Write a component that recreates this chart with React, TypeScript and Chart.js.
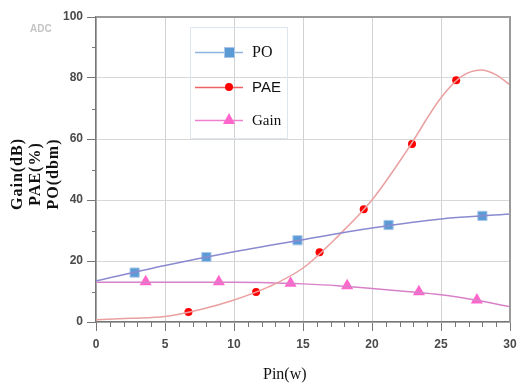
import React, { useEffect, useRef } from 'react';
import { Chart, registerables } from 'chart.js';
Chart.register(...registerables);

// Smooth curves
const poCurveX = [0, 5, 10, 15, 20, 25, 30];
const poCurveY = [13.5, 18.5, 23, 27, 30.8, 33.8, 35.4];
const paeCurveX = [0, 2.5, 5, 7.5, 10, 12.5, 15, 17.5, 20, 22.5, 25, 26.5, 27.9, 29, 30];
const paeCurveY = [0.7, 1.2, 1.8, 4, 7.2, 11.5, 17.7, 28, 40, 56, 73.5, 80.5, 82.6, 81, 77.7];
const gainCurveX = [0, 5, 10, 12.5, 15, 17.5, 20, 22.5, 25, 27.5, 30];
const gainCurveY = [13, 13, 13, 12.9, 12.5, 11.9, 11, 10, 8.9, 7.2, 5];

// Markers
const poMarkX = [2.8, 8, 14.6, 21.2, 28];
const poMarkY = [16.2, 21.3, 26.8, 31.8, 34.8];
const paeMarkX = [6.7, 11.6, 16.2, 19.4, 22.9, 26.1];
const paeMarkY = [3.3, 9.8, 22.9, 37, 58.4, 79.3];
const gainMarkX = [3.6, 8.9, 14.1, 18.2, 23.4, 27.6];
const gainMarkY = [13.2, 13.2, 12.7, 11.9, 9.9, 7.2];

const xTickLabels = [0, 5, 10, 15, 20, 25, 30];
const yTickLabels = [0, 20, 40, 60, 80, 100];
const seriesNames = ['PO', 'PAE', 'Gain'];
const yTitleLines = ['Gain(dB)', 'PAE(%)', 'PO(dbm)'];
const xTitle = 'Pin(w)';

const pts = (xs: number[], ys: number[]) => xs.map((x, i) => ({ x, y: ys[i] }));

const decorPlugin = {
  id: 'decor',
  afterDraw(chart: any) {
    const { ctx, chartArea: a, scales } = chart;
    const xs = scales.x, ys = scales.y;
    ctx.save();
    // frame top/right
    ctx.strokeStyle = '#9a9a9a';
    ctx.lineWidth = 2;
    ctx.beginPath();
    ctx.moveTo(a.left, a.top);
    ctx.lineTo(a.right, a.top);
    ctx.lineTo(a.right, a.bottom);
    ctx.stroke();
    // minor ticks
    ctx.strokeStyle = '#777';
    ctx.lineWidth = 1;
    ctx.beginPath();
    for (let v = 1; v < 30; v++) {
      if (v % 5 === 0) continue;
      const px = Math.round(xs.getPixelForValue(v)) + 0.5;
      ctx.moveTo(px, a.bottom);
      ctx.lineTo(px, a.bottom + 5);
    }
    for (let v = 10; v < 100; v += 20) {
      const py = Math.round(ys.getPixelForValue(v)) + 0.5;
      ctx.moveTo(a.left - 4, py);
      ctx.lineTo(a.left, py);
    }
    ctx.stroke();

    // legend
    ctx.strokeStyle = '#dfe5ef';
    ctx.lineWidth = 1;
    ctx.strokeRect(190.5, 27.5, 97, 111);
    const items = [
      { y: 52, color: '#8fb4e0', font: "16px 'Liberation Serif'", draw: () => {
        ctx.fillStyle = '#5b9bd5'; ctx.strokeStyle = '#a9c6e8'; ctx.lineWidth = 1;
        ctx.fillRect(225, 48, 9, 9); ctx.strokeRect(224.5, 47.5, 10, 10);
      } },
      { y: 87, color: '#f06060', font: "15px 'Liberation Sans'", draw: () => {
        ctx.fillStyle = '#ff0000'; ctx.beginPath(); ctx.arc(229, 87, 4, 0, Math.PI * 2); ctx.fill();
      } },
      { y: 120, color: '#f080d0', font: "15px 'Liberation Serif'", draw: () => {
        ctx.fillStyle = '#ff66cc'; ctx.beginPath();
        ctx.moveTo(229, 113); ctx.lineTo(235, 124); ctx.lineTo(223, 124); ctx.closePath(); ctx.fill();
      } },
    ];
    items.forEach((it, i) => {
      ctx.strokeStyle = it.color; ctx.lineWidth = 1.5;
      ctx.beginPath(); ctx.moveTo(195, it.y + 0.5); ctx.lineTo(243, it.y + 0.5); ctx.stroke();
      it.draw();
      ctx.fillStyle = '#111'; ctx.font = it.font; ctx.textAlign = 'left'; ctx.textBaseline = 'middle';
      ctx.fillText(seriesNames[i], 252, it.y + 1);
    });

    // y title
    ctx.fillStyle = '#111';
    ctx.font = "bold 16px 'Liberation Serif'";
    (ctx as any).letterSpacing = '1px';
    ctx.textAlign = 'center'; ctx.textBaseline = 'middle';
    const cxs = [18, 36, 54];
    yTitleLines.forEach((t, i) => {
      ctx.save(); ctx.translate(cxs[i], 174); ctx.rotate(-Math.PI / 2); ctx.fillText(t, 0, 0); ctx.restore();
    });
    (ctx as any).letterSpacing = '0px';
    // x title
    ctx.font = "16px 'Liberation Serif'";
    ctx.textAlign = 'left'; ctx.textBaseline = 'alphabetic';
    ctx.fillText(xTitle, 263, 379);
    // ADC
    ctx.fillStyle = '#c4c4c4';
    ctx.font = "bold 10px 'Liberation Sans'";
    ctx.fillText('ADC', 30, 32);
    ctx.restore();
  },
};

export default function App() {
  const ref = useRef<HTMLCanvasElement>(null);
  useEffect(() => {
    const tickFont = { family: "'Liberation Sans'", size: 12, weight: 'bold' as const };
    const chart = new Chart(ref.current!, {
      type: 'line',
      data: {
        datasets: [
          { label: 'POc', data: pts(poCurveX, poCurveY), borderColor: '#8a8ad0', borderWidth: 1.5, pointRadius: 0, cubicInterpolationMode: 'monotone' },
          { label: 'PAEc', data: pts(paeCurveX, paeCurveY), borderColor: '#eaa0a0', borderWidth: 1.5, pointRadius: 0, cubicInterpolationMode: 'monotone' },
          { label: 'Gainc', data: pts(gainCurveX, gainCurveY), borderColor: '#d880c8', borderWidth: 1.5, pointRadius: 0, cubicInterpolationMode: 'monotone' },
          { label: 'PO', data: pts(poMarkX, poMarkY), showLine: false, pointStyle: 'rect', pointRadius: 6.5, pointBackgroundColor: '#5b9bd5', pointBorderColor: '#a9c6e8', pointBorderWidth: 1 },
          { label: 'PAE', data: pts(paeMarkX, paeMarkY), showLine: false, pointStyle: 'circle', pointRadius: 4, pointBackgroundColor: '#ff0000', pointBorderColor: '#ff0000', pointBorderWidth: 0 },
          { label: 'Gain', data: pts(gainMarkX, gainMarkY), showLine: false, pointStyle: 'triangle', pointRadius: 7, pointBackgroundColor: '#ff66cc', pointBorderColor: '#ff66cc', pointBorderWidth: 0 },
        ],
      },
      options: {
        responsive: false,
        animation: false,
        layout: { padding: { left: 0, right: 10, top: 17, bottom: 0 } },
        plugins: { legend: { display: false }, tooltip: { enabled: false } },
        scales: {
          x: {
            type: 'linear', min: 0, max: 30,
            afterFit: (s: any) => { s.height = 62; s.paddingRight = 0; s.paddingLeft = 0; },
            ticks: {
              stepSize: 1, autoSkip: false, maxRotation: 0, padding: 6,
              color: '#4a4a4a', font: tickFont,
              callback: (v: any) => (xTickLabels.includes(Number(v)) ? String(v) : ''),
            },
            grid: {
              tickLength: 9,
              color: (c: any) => (c.tick && xTickLabels.includes(c.tick.value) ? '#d2d2d2' : 'transparent'),
              tickColor: (c: any) => (c.tick && xTickLabels.includes(c.tick.value) ? '#777' : 'transparent'),
            },
            border: { color: '#777', width: 1.5 },
          },
          y: {
            type: 'linear', min: 0, max: 100,
            afterFit: (s: any) => { s.width = 96; },
            ticks: {
              stepSize: 10, autoSkip: false, padding: 4,
              color: '#4a4a4a', font: tickFont,
              callback: (v: any) => (yTickLabels.includes(Number(v)) ? String(v) : ''),
            },
            grid: {
              tickLength: 9,
              color: (c: any) => (c.tick && yTickLabels.includes(c.tick.value) ? '#d8d8d8' : 'transparent'),
              tickColor: (c: any) => (c.tick && yTickLabels.includes(c.tick.value) ? '#777' : 'transparent'),
            },
            border: { color: '#777', width: 1.5 },
          },
        },
      },
      plugins: [decorPlugin],
    });
    return () => chart.destroy();
  }, []);
  return (
    <div style={{ position: 'absolute', left: 0, top: 0, width: 520, height: 384, background: '#fff' }}>
      <canvas ref={ref} width={520} height={384} style={{ display: 'block' }} />
    </div>
  );
}
